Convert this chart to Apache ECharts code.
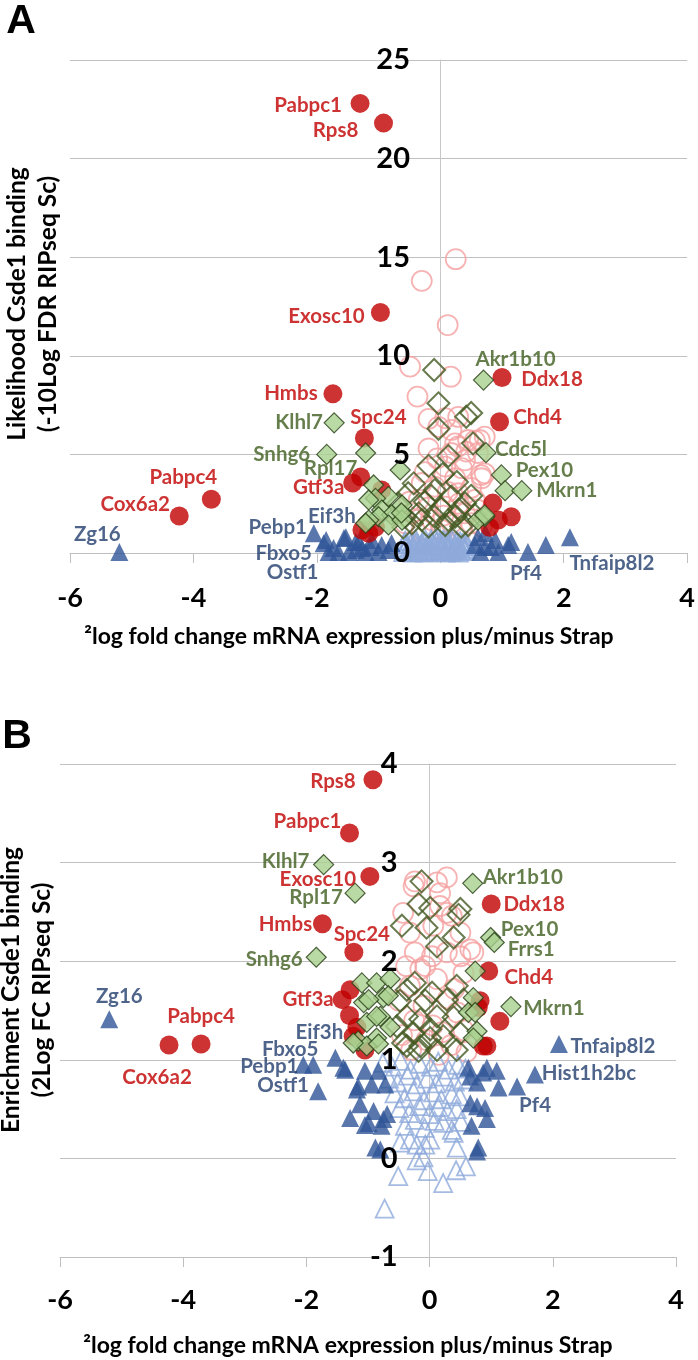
<!DOCTYPE html>
<html><head><meta charset="utf-8">
<script src="https://cdn.jsdelivr.net/npm/echarts@6/dist/echarts.min.js"></script>
<style>html,body{margin:0;padding:0;background:#fff}#c{width:698px;height:1360px}</style>
</head><body><div id="c"></div>
<script>
// ---------- named genes (x = 2log FC mRNA, A = -10log FDR, B = 2log FC RIP) ----------
const geneNames = ['Pabpc1','Rps8','Exosc10','Hmbs','Spc24','Gtf3a','Cox6a2','Pabpc4','Ddx18','Chd4',
  'Klhl7','Snhg6','Rpl17','Akr1b10','Cdc5l','Pex10','Frrs1','Mkrn1',
  'Zg16','Pebp1','Fbxo5','Ostf1','Eif3h','Pf4','Tnfaip8l2','Hist1h2bc'];
const geneFC = [-1.30,-0.92,-0.97,-1.74,-1.23,-1.42,-4.23,-3.71,1.00,0.96,
  -1.72,-1.84,-1.21,0.70,0.74,0.99,1.05,1.32,
  -5.20,-2.05,-1.89,-1.81,-1.53,1.42,2.10,1.71];
const geneFDR = [22.8,21.8,12.2,8.07,5.83,3.55,1.88,2.73,8.9,6.66,
  6.6,5.0,5.07,8.77,5.09,3.96,3.16,3.16,
  0.05,1.0,0.5,0.05,0.8,0.05,0.8,0.4];
const geneEnrich = [3.30,3.84,2.86,2.38,2.09,1.61,1.15,1.16,2.58,1.90,
  2.98,2.04,2.69,2.79,1.90,2.24,2.19,1.54,
  1.41,0.95,0.95,0.68,1.02,0.73,1.16,0.85];
const geneClass = ['red','red','red','red','red','red','red','red','red','red',
  'green','green','green','green','green','green','green','green',
  'blue','blue','blue','blue','blue','blue','blue','blue'];

// ---------- panel A clouds ----------
const aPinkCircles = [[0.25,14.9],[-0.30,13.8],[0.12,11.56],[-0.49,9.45],[0.17,8.94],[-0.37,7.93],[-0.19,6.80],[0.08,6.84],[0.29,6.9],[-0.03,6.4],[0.18,6.24],[0.72,5.9],[0.64,5.73],[0.45,5.73],[0.56,5.7],[0.24,5.56],[-0.19,5.3],[0.29,5.4],[0.42,5.14],[0.61,5.07],[0.18,5.07],[0.40,4.7],[0.08,4.38],[0.72,4.04],[0.66,3.95],[0.67,3.79],[0.24,3.79],[-0.30,3.55],[-0.09,3.36],[0.29,3.03],[0.56,2.69],[-0.35,2.69],[0.08,2.35],[0.40,2.01],[-0.46,2.01],[-0.14,1.67],[0.18,1.51],[0.5,1.51],[-0.57,1.51],[-0.30,1.17],[0.02,1.17],[0.34,1.17],[0.67,1.34],[-0.2,2.3],[0.3,2.5],[0.5,3.3],[-0.05,4.8],[0.35,4.3],[-0.25,4.1],[0.12,3.1],[0.6,2.2],[-0.5,2.6],[0.05,1.9]];
const aRedCircles = [[-1.29,3.85],[-0.95,3.2],[-1.27,1.17],[-1.16,1.0],[0.85,2.53],[1.15,1.84],[0.94,1.67],[0.8,1.3],[-1.05,1.3]];
const aHollowDiamonds = [[-0.10,9.28],[-0.03,7.59],[0.42,6.91],[0.50,7.10],[-0.03,6.30],[0.53,5.56],[0.13,4.92],[-0.19,4.42],[0.04,4.0],[-0.43,3.53],[0.27,3.6],[-0.09,3.19],[0.18,2.86],[-0.52,3.03],[-0.25,2.60],[0.02,2.27],[0.40,2.52],[-0.68,2.52],[-0.35,2.01],[-0.09,1.84],[0.24,1.84],[0.56,1.93],[-0.46,1.51],[-0.19,1.34],[0.08,1.42],[0.34,1.34],[-0.30,1.67],[-0.57,1.84],[0.45,1.42],[0.13,1.67],[0.3,2.2],[-0.15,2.9],[0.5,2.9],[-0.6,1.3]];
const aGreenDiamonds = [[-0.65,4.21],[-1.08,3.45],[-0.84,2.86],[-1.05,2.77],[-1.16,2.69],[-0.95,2.18],[-0.62,2.43],[-0.79,1.93],[-1.0,1.84],[-1.16,1.67],[-1.21,1.51],[-0.84,1.42],[-0.62,1.67],[-0.63,2.03],[0.72,1.84],[0.61,1.67],[0.72,1.93]];
const aBlueTriangles = [[-1.85,0.66],[-1.56,0.76],[-1.37,0.56],[-1.32,0.56],[-1.27,0.25],[-1.13,0.30],[-1.11,0.66],[-1.37,0.15],[-1.0,0.05],[-0.95,0.41],[-0.84,0.15],[-0.79,0.51],[-1.73,0.25],[-1.65,0.05],[-1.48,0.05],[-1.21,0.05],[0.56,0.41],[0.61,0.81],[0.73,1.01],[0.73,0.30],[0.65,0.05],[0.82,0.30],[0.89,0.66],[1.10,0.41],[1.15,0.56],[0.94,0.05]];
const aLightTriangles = [[-0.6,0.05],[-0.56,0.3],[-0.52,0.12],[-0.48,0.45],[-0.45,0.02],[-0.42,0.25],[-0.38,0.55],[-0.35,0.1],[-0.31,0.38],[-0.28,0.62],[-0.25,0.02],[-0.22,0.22],[-0.18,0.48],[-0.15,0.7],[-0.12,0.08],[-0.09,0.32],[-0.06,0.58],[-0.03,0.75],[0.0,0.15],[0.03,0.42],[0.06,0.68],[0.09,0.02],[0.12,0.28],[0.15,0.55],[0.18,0.72],[0.21,0.1],[0.24,0.38],[0.27,0.62],[0.3,0.02],[0.33,0.25],[0.36,0.5],[0.39,0.12],[0.42,0.35],[-0.58,0.5],[0.4,0.58],[-0.4,0.7],[0.1,0.45],[-0.2,0.05],[0.25,0.15],
  [-0.59,0.2],[-0.54,0.42],[-0.5,0.6],[-0.47,0.15],[-0.44,0.36],[-0.41,0.52],[-0.37,0.2],[-0.33,0.05],[-0.3,0.5],[-0.27,0.3],[-0.24,0.68],[-0.21,0.4],[-0.17,0.15],[-0.14,0.55],[-0.11,0.4],[-0.08,0.72],[-0.05,0.2],[-0.02,0.55],[0.01,0.3],[0.04,0.62],[0.07,0.1],[0.11,0.65],[0.14,0.38],[0.17,0.05],[0.2,0.6],[0.23,0.25],[0.26,0.5],[0.29,0.3],[0.32,0.6],[0.35,0.1],[0.38,0.4],[0.41,0.2],[0.43,0.5],[-0.57,0.62],[-0.36,0.42],[0.0,0.62],[0.16,0.2],[-0.26,0.12]];

// ---------- panel B clouds ----------
const bPinkCircles = [[-0.24,2.81],[0.28,2.85],[0.12,2.80],[-0.26,2.76],[0.17,2.69],[-0.43,2.49],[0.17,2.56],[0.36,2.46],[0.28,2.49],[-0.32,2.29],[0.06,2.36],[0.50,2.29],[0.71,2.09],[0.66,2.12],[-0.24,2.09],[0.04,2.05],[0.28,2.09],[0.50,2.05],[-0.15,1.92],[-0.07,1.95],[0.55,1.88],[-0.32,1.75],[0.12,1.82],[-0.5,1.6],[-0.1,1.55],[0.3,1.62],[0.45,1.48],[-0.25,1.4],[0.05,1.35],[0.2,1.28],[0.55,1.3],[-0.45,1.25],[-0.05,1.2],[0.35,1.15],[0.6,1.08],[-0.3,1.1],[0.15,1.05],[0.4,1.72],[-0.38,1.95]];
const bRedCircles = [[-1.29,1.71],[-1.18,1.33],[-1.24,1.24],[-1.05,1.10],[0.79,1.53],[0.93,1.14],[1.14,1.39],[0.87,1.14],[0.82,1.6],[-1.3,1.45]];
const bHollowDiamonds = [[-0.13,2.81],[-0.18,2.58],[0.01,2.54],[0.50,2.53],[0.47,2.47],[-0.45,2.36],[-0.05,2.34],[0.39,2.24],[0.12,2.15],[-0.37,1.71],[-0.24,1.78],[0.04,1.68],[0.44,1.75],[-0.48,1.6],[-0.07,1.6],[0.28,1.61],[0.55,1.61],[-0.37,1.44],[-0.15,1.41],[0.12,1.44],[0.39,1.43],[-0.53,1.34],[-0.26,1.27],[0.01,1.31],[0.22,1.24],[0.50,1.27],[-0.43,1.17],[-0.15,1.14],[0.12,1.1],[0.44,1.1],[-0.18,1.09],[0.01,1.22],[-0.37,1.14]];
const bGreenDiamonds = [[-1.10,1.78],[-0.86,1.78],[-0.64,1.82],[-1.07,1.58],[-0.75,1.63],[-0.80,1.44],[-1.02,1.38],[-0.64,1.33],[-1.16,1.19],[-0.86,1.22],[-1.02,1.14],[-0.83,1.16],[-1.24,1.17],[-0.99,1.61],[-0.67,1.65],[-0.86,1.44],[0.71,1.63],[0.63,1.48],[0.77,1.29],[0.71,1.22],[0.74,1.48]];
const bBlueTriangles = [[-1.37,0.90],[-1.05,0.89],[-0.83,0.89],[-1.16,0.73],[-0.94,0.75],[-0.72,0.75],[-1.13,0.55],[-0.91,0.48],[-1.29,0.41],[-1.05,0.34],[-0.69,0.45],[-0.78,0.33],[-0.88,0.11],[-0.80,0.09],[-1.40,0.92],[-0.99,0.36],[-1.18,0.70],[-0.75,0.40],[0.63,0.92],[0.87,0.87],[1.09,0.89],[1.12,0.72],[0.77,0.77],[0.66,0.56],[0.90,0.51],[0.68,0.33],[0.93,0.40],[0.79,0.11],[0.66,0.83],[0.77,0.53],[0.77,0.07],[0.93,0.92]];
const bLightTriangles = [[-0.76,0.97],[-0.61,0.93],[-0.47,0.99],[-0.31,0.9],[-0.16,0.96],[0.02,0.93],[0.14,0.98],[0.31,0.9],[0.46,0.95],[0.58,0.91],[-0.66,0.81],[-0.52,0.77],[-0.36,0.84],[-0.21,0.75],[-0.04,0.81],[0.11,0.76],[0.24,0.83],[0.41,0.78],[0.54,0.8],[-0.57,0.66],[-0.41,0.61],[-0.26,0.68],[-0.09,0.59],[0.06,0.67],[0.19,0.6],[0.36,0.65],[0.49,0.63],[-0.49,0.51],[-0.33,0.46],[-0.17,0.53],[-0.01,0.45],[0.14,0.52],[0.29,0.48],[0.44,0.5],[-0.4,0.33],[-0.24,0.39],[-0.08,0.31],[0.08,0.38],[0.22,0.36],[0.36,0.29],[0.51,0.37],[-0.48,0.16],[-0.51,-0.18],[-0.73,-0.51],[0.22,-0.25],[-0.03,-0.13],[0.43,-0.12],[0.59,-0.08],[0.44,0.11],[-0.21,-0.02],[-0.10,0.01],[-0.21,0.14],[-0.07,0.14],[-0.32,0.19],[0.01,0.19],[0.39,0.26]];

// ---------- axis ranges / ticks ----------
const xRange = [-6, 4], xStep = 2;
const aRange = [0, 25], aStep = 5;
const bRange = [-1, 4], bStep = 1;
const xTitle = '\u00B2log fold change mRNA expression plus/minus Strap';
const aYTitle = 'Likelihood Csde1 binding\n(-10Log FDR RIPseq Sc)';
const bYTitle = 'Enrichment Csde1 binding\n(2Log FC RIPseq Sc)';

// ---------- styles (kept apart from data) ----------
const labelOffsetA = {Pabpc1:[-52,2],Rps8:[-48,7],Exosc10:[-54,4],Hmbs:[-42,0],Spc24:[14,-21],Gtf3a:[-34,4],Cox6a2:[-44,-12],Pabpc4:[-28,-22],Ddx18:[50,2],Chd4:[38,-4],Klhl7:[-35,0],Snhg6:[-45,0],Rpl17:[-35,15],Akr1b10:[32,-21],Cdc5l:[35,-3],Pex10:[43,-5],Mkrn1:[45,0],Zg16:[-22,-18],Pebp1:[-36,-6],Fbxo5:[-40,10],Ostf1:[-36,20],Eif3h:[-14,-21],Pf4:[-2,21],Tnfaip8l2:[42,26]};
const labelOffsetB = {Rps8:[-40,2],Pabpc1:[-42,-12],Klhl7:[-38,-3],Exosc10:[-52,3],Rpl17:[-39,4],Hmbs:[-37,1],Spc24:[8,-18],Snhg6:[-42,2],Gtf3a:[-34,0],Zg16:[10,-23],Pabpc4:[0,-28],Cox6a2:[-12,32],Eif3h:[-16,-25],Fbxo5:[-23,-15],Pebp1:[-34,2],Ostf1:[-35,-6],Akr1b10:[50,-6],Ddx18:[43,0],Pex10:[39,-8],Frrs1:[37,7],Chd4:[40,6],Mkrn1:[43,2],Tnfaip8l2:[54,2],Hist1h2bc:[54,-1],Pf4:[18,19]};
const clear = 'rgba(255,255,255,0)';
const ST = {
  pink:  {symbol:'circle', size:20, itemStyle:{color:clear, borderColor:'#f5a0a0', borderWidth:1.8}},
  light: {symbol:'triangle', size:18, itemStyle:{color:clear, borderColor:'#8eaadb', borderWidth:1.8}},
  blue:  {symbol:'triangle', size:18, itemStyle:{color:'#2f5597'}},
  red:   {symbol:'circle', size:19, itemStyle:{color:'#c00000'}},
  hollow:{symbol:'diamond', size:22, itemStyle:{color:clear, borderColor:'#435a22', borderWidth:2}},
  green: {symbol:'diamond', size:20, itemStyle:{color:'#a9d18e', borderColor:'#263d14', borderWidth:1.2}}
};
const labelColor = {red:'#c00000', green:'#3e5e1e', blue:'#223d6e'};
const FONT = 'Lato';
const grids = [{left:70, top:60, width:620, height:493}, {left:60, top:764, width:616, height:493}];

function sc(g, data, st, z) {
  return {type:'scatter', xAxisIndex:g, yAxisIndex:g*2, data, symbol:st.symbol, symbolSize:st.size,
    itemStyle:st.itemStyle, z, silent:true, animation:false};
}
function labeled(g, cls, yVals, offsets) {
  const data = [];
  geneNames.forEach((n, i) => {
    if (geneClass[i] !== cls) return;
    const item = {name:n, value:[geneFC[i], yVals[i]]};
    if (offsets[n]) {
      item.label = {show:true, position:'inside', offset:offsets[n], formatter:'{b}', color:labelColor[cls],
        fontFamily:FONT, fontSize:20.5, fontWeight:'bold', textBorderWidth:0, align:'center', verticalAlign:'middle'};
    }
    data.push(item);
  });
  return sc(g, data, ST[cls], 5);
}
function xAx(g, margin) {
  return {gridIndex:g, type:'value', min:xRange[0], max:xRange[1], interval:xStep,
    axisLine:{show:true, onZero:false, lineStyle:{color:'#bfbfbf', width:1}},
    axisTick:{show:true, length:10, lineStyle:{color:'#bfbfbf'}},
    axisLabel:{margin, verticalAlign:'middle', fontFamily:FONT, fontSize:27, fontWeight:'bold', color:'#000'},
    splitLine:{show:false}};
}
function yAxPair(g, range, step) {
  const gr = grids[g];
  const zeroOff = gr.width * (0 - xRange[0]) / (xRange[1] - xRange[0]);
  return [
    {gridIndex:g, type:'value', min:range[0], max:range[1], interval:step, z:0,
      axisLine:{show:true, onZero:true, lineStyle:{color:'#c8c8c8', width:1}}, axisTick:{show:false},
      axisLabel:{show:false}, splitLine:{show:true, lineStyle:{color:'#c0c0c0', width:1}}},
    {gridIndex:g, type:'value', min:range[0], max:range[1], interval:step, z:10, position:'left', offset:-zeroOff,
      axisLine:{show:false, onZero:false}, axisTick:{show:false}, splitLine:{show:false},
      axisLabel:{margin:32, fontFamily:FONT, fontSize:29, fontWeight:'bold', color:'#000'}}
  ];
}

const chart = echarts.init(document.getElementById('c'), null, {renderer:'canvas'});
const series = [
  sc(0, aPinkCircles, ST.pink, 2), sc(0, aLightTriangles, ST.light, 2), sc(0, aBlueTriangles, ST.blue, 2),
  sc(0, aRedCircles, ST.red, 2), sc(0, aHollowDiamonds, ST.hollow, 2), sc(0, aGreenDiamonds, ST.green, 2),
  labeled(0, 'blue', geneFDR, labelOffsetA), labeled(0, 'red', geneFDR, labelOffsetA), labeled(0, 'green', geneFDR, labelOffsetA),
  sc(1, bPinkCircles, ST.pink, 2), sc(1, bLightTriangles, ST.light, 2), sc(1, bBlueTriangles, ST.blue, 2),
  sc(1, bRedCircles, ST.red, 2), sc(1, bHollowDiamonds, ST.hollow, 2), sc(1, bGreenDiamonds, ST.green, 2),
  labeled(1, 'blue', geneEnrich, labelOffsetB), labeled(1, 'red', geneEnrich, labelOffsetB), labeled(1, 'green', geneEnrich, labelOffsetB)
];
series.forEach(s => { if (s.xAxisIndex === 1) s.yAxisIndex = 2; });

chart.setOption({
  animation:false,
  backgroundColor:'#fff',
  grid: grids,
  xAxis: [xAx(0, 45), xAx(1, 43)],
  yAxis: [...yAxPair(0, aRange, aStep), ...yAxPair(1, bRange, bStep)],
  series,
  graphic: [
    {type:'text', x:21, y:22, style:{text:'A', font:'bold 41px "Liberation Sans"', fill:'#000', textAlign:'center', textVerticalAlign:'middle'}},
    {type:'text', x:33, y:304, rotation:Math.PI/2, style:{text:aYTitle, font:'bold 24.5px ' + FONT, lineHeight:31, fill:'#000', textAlign:'center', textVerticalAlign:'middle'}},
    {type:'text', x:349, y:637, style:{text:xTitle, font:'bold 23px ' + FONT, fill:'#000', textAlign:'center', textVerticalAlign:'middle'}},
    {type:'text', x:17, y:737, style:{text:'B', font:'bold 41px "Liberation Sans"', fill:'#000', textAlign:'center', textVerticalAlign:'middle'}},
    {type:'text', x:27, y:990, rotation:Math.PI/2, style:{text:bYTitle, font:'bold 24.5px ' + FONT, lineHeight:31, fill:'#000', textAlign:'center', textVerticalAlign:'middle'}},
    {type:'text', x:348, y:1346, style:{text:xTitle, font:'bold 23px ' + FONT, fill:'#000', textAlign:'center', textVerticalAlign:'middle'}}
  ]
});
</script></body></html>
